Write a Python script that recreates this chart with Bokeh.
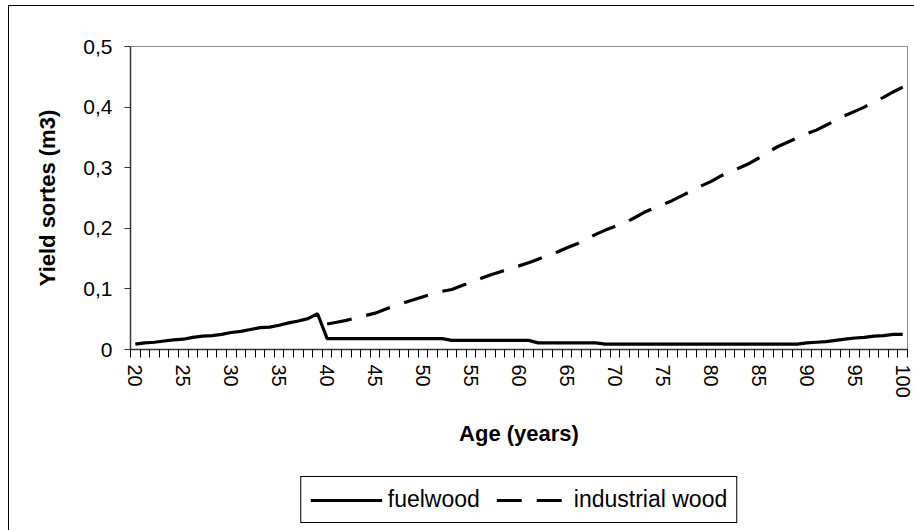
from bokeh.plotting import figure
from bokeh.models import FixedTicker, Legend, LegendItem, Range1d
from bokeh.layouts import column
from bokeh.embed import file_html
from bokeh.resources import INLINE

# ---- data ----
ages = list(range(20, 101))
fuelwood = [
    0.009, 0.011, 0.012, 0.014, 0.016, 0.017, 0.020, 0.022, 0.023, 0.025,
    0.028, 0.030, 0.033, 0.036, 0.037, 0.040, 0.044, 0.047, 0.051, 0.059,
    0.018, 0.018, 0.018, 0.018, 0.018, 0.018, 0.018, 0.018, 0.018, 0.018,
    0.018, 0.018, 0.018,
    0.015, 0.015, 0.015, 0.015, 0.015, 0.015, 0.015, 0.015, 0.015,
    0.011, 0.011, 0.011, 0.011, 0.011, 0.011, 0.011,
    0.009, 0.009, 0.009, 0.009, 0.009, 0.009, 0.009, 0.009, 0.009, 0.009,
    0.009, 0.009, 0.009, 0.009, 0.009, 0.009, 0.009, 0.009, 0.009, 0.009,
    0.009,
    0.011, 0.012, 0.013, 0.015, 0.017, 0.019, 0.020, 0.022, 0.023, 0.025,
    0.025,
]
industrial_ages = list(range(40, 101))
industrial_wood = [
    0.042, 0.045, 0.048, 0.052, 0.056, 0.060, 0.066, 0.072, 0.077, 0.082,
    0.087, 0.092, 0.096, 0.099, 0.105, 0.111, 0.117, 0.123, 0.128, 0.133,
    0.138, 0.143, 0.149, 0.155, 0.161, 0.168, 0.174, 0.182, 0.190, 0.197,
    0.203, 0.209, 0.217, 0.226, 0.233, 0.239, 0.246, 0.254, 0.262, 0.270,
    0.277, 0.286, 0.294, 0.300, 0.307, 0.316, 0.326, 0.335, 0.342, 0.349,
    0.356, 0.362, 0.370, 0.378, 0.386, 0.393, 0.400, 0.409, 0.416, 0.425,
    0.433,
]
x_label_ages = list(range(20, 101, 5))
y_ticks = [0, 0.1, 0.2, 0.3, 0.4, 0.5]
y_tick_labels = ["0", "0,1", "0,2", "0,3", "0,4", "0,5"]
series_names = ["fuelwood", "industrial wood"]
x_title = "Age (years)"
y_title = "Yield sortes (m3)"

FONT = "Liberation Sans"
SOLID = dict(line_color="black", line_width=3.2)
DASHED = dict(line_color="black", line_width=3.2, line_dash="25 15")

# ---- main chart ----
p = figure(
    width=905, height=453,
    x_range=Range1d(ages[0] - 0.5, ages[-1] + 0.5),
    y_range=Range1d(y_ticks[0], y_ticks[-1]),
    output_backend="svg", toolbar_location=None,
    min_border_left=121, min_border_top=40, min_border_right=7,
    min_border_bottom=110,
    background_fill_color="white", border_fill_color="white",
)
p.grid.visible = False
p.outline_line_color = "#8c8c8c"
p.outline_line_width = 1

p.line(ages, fuelwood, **SOLID)
p.line(industrial_ages, industrial_wood, **DASHED)

xa = p.xaxis[0]
xa.ticker = FixedTicker(ticks=x_label_ages,
                        minor_ticks=[a - 0.5 for a in ages] + [ages[-1] + 0.5])
xa.major_label_overrides = {a: str(a) for a in x_label_ages}
xa.major_tick_out = 0
xa.major_tick_in = 0
xa.minor_tick_out = 8
xa.minor_tick_in = 0
xa.minor_tick_line_color = "black"
xa.axis_line_color = "#333333"
xa.axis_line_width = 1.5
xa.major_label_orientation = "vertical"
xa.major_label_standoff = 7
xa.major_label_text_font = FONT
xa.major_label_text_font_size = "20px"
xa.major_label_text_color = "black"
xa.axis_label = x_title
xa.axis_label_text_font = FONT
xa.axis_label_text_font_style = "bold"
xa.axis_label_text_font_size = "22px"
xa.axis_label_text_color = "black"
xa.axis_label_standoff = 20

ya = p.yaxis[0]
ya.ticker = FixedTicker(ticks=y_ticks, minor_ticks=[])
ya.major_label_overrides = {t: l for t, l in zip(y_ticks, y_tick_labels)}
ya.major_tick_out = 6
ya.major_tick_in = 0
ya.major_tick_line_color = "#333333"
ya.axis_line_color = "#333333"
ya.axis_line_width = 1.5
ya.major_label_standoff = 12
ya.major_label_text_font = FONT
ya.major_label_text_font_size = "21px"
ya.major_label_text_color = "black"
ya.axis_label = y_title
ya.axis_label_text_font = FONT
ya.axis_label_text_font_style = "bold"
ya.axis_label_text_font_size = "22px"
ya.axis_label_text_color = "black"
ya.axis_label_standoff = 20

# ---- legend strip (same series, data outside its empty frame) ----
lp = figure(
    width=905, height=71,
    x_range=Range1d(0, 1), y_range=Range1d(0, 1),
    output_backend="svg", toolbar_location=None,
    x_axis_location=None, y_axis_location=None,
    min_border_left=121, min_border_right=7, min_border_top=0,
    min_border_bottom=0,
    background_fill_color="white", border_fill_color="white",
)
lp.grid.visible = False
lp.outline_line_color = None
lr1 = lp.line(ages, fuelwood, **SOLID)
lr2 = lp.line(industrial_ages, industrial_wood, **DASHED)

legend = Legend(
    items=[LegendItem(label=series_names[0], renderers=[lr1]),
           LegendItem(label=series_names[1], renderers=[lr2])],
    orientation="horizontal", location="bottom_center",
)
legend.border_line_color = "black"
legend.border_line_width = 1
legend.border_line_alpha = 1
legend.background_fill_color = "white"
legend.background_fill_alpha = 1
legend.label_text_font = FONT
legend.label_text_font_size = "23px"
legend.label_text_color = "black"
legend.glyph_width = 72
legend.glyph_height = 26
legend.label_height = 26
legend.label_standoff = 6
legend.spacing = 16
legend.padding = 9
legend.margin = 7
lp.add_layout(legend, "center")

layout = column(p, lp, spacing=0,
                styles={"border-left": "1px solid black",
                        "border-top": "1px solid black",
                        "margin-left": "8px", "margin-top": "5px"})

open("out.html", "w").write(file_html(layout, INLINE))
